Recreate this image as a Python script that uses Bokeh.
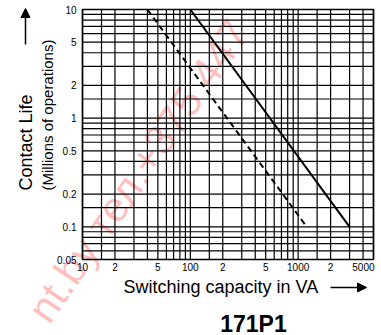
import math
from bokeh.plotting import figure
from bokeh.models import Arrow, NormalHead
from bokeh.core.properties import value
from bokeh.embed import file_html
from bokeh.resources import INLINE

# ---- data ----
x_tick_values = [10, 20, 50, 100, 200, 500, 1000, 2000, 5000]
x_tick_labels = ["10", "2", "5", "100", "2", "5", "1000", "2", "5000"]
y_tick_values = [0.05, 0.1, 0.2, 0.5, 1, 2, 5, 10]
y_tick_labels = ["0.05", "0.1", "0.2", "0.5", "1", "2", "5", "10"]
x_grid_values = [10, 15, 20, 30, 40, 50, 60, 70, 80, 90,
                 100, 150, 200, 300, 400, 500, 600, 700, 800, 900,
                 1000, 1500, 2000, 3000, 4000, 5000]
y_grid_values = [0.05, 0.06, 0.07, 0.08, 0.09,
                 0.1, 0.15, 0.2, 0.3, 0.4, 0.5, 0.6, 0.7, 0.8, 0.9,
                 1, 1.5, 2, 3, 4, 5, 6, 7, 8, 9, 10]
solid_va = [100, 3000]
solid_life = [10, 0.1]
dashed_va = [40, 1200]
dashed_life = [10, 0.1]

X_MIN, X_MAX = 10, 5000
Y_MIN, Y_MAX = 0.05, 10

FONT = value("Liberation Sans")
W, H = 381, 335
# plot box inside the canvas (pixels)
BOX_L, BOX_R, BOX_T, BOX_B = 82, 373, 9, 259

PX_X = (BOX_R - BOX_L) / math.log10(X_MAX / X_MIN)   # px per decade
PX_Y = (BOX_B - BOX_T) / math.log10(Y_MAX / Y_MIN)


def x_px(px):
    return X_MIN * 10 ** ((px - BOX_L) / PX_X)


def y_px(py):
    return Y_MAX / 10 ** ((py - BOX_T) / PX_Y)


p = figure(width=W, height=H, x_axis_type="log", y_axis_type="log",
           x_range=(x_px(0), x_px(W)), y_range=(y_px(H), y_px(0)),
           x_axis_location=None, y_axis_location=None,
           toolbar_location=None, output_backend="svg",
           min_border=0)
p.grid.visible = False
p.outline_line_color = None
p.background_fill_color = "white"
p.border_fill_color = "white"

# watermark (drawn first, under the grid)
p.text(x=[X_MIN], y=[Y_MIN], text=["nt.by тел.+375 447"], x_offset=-45, y_offset=58,
       angle=0.967, text_font=FONT, text_font_size="42px", text_color="red",
       text_alpha=0.27, text_align="left", text_baseline="middle")

# grid
nx, ny = len(x_grid_values), len(y_grid_values)
p.segment(x0=x_grid_values, y0=[Y_MIN] * nx, x1=x_grid_values, y1=[Y_MAX] * nx,
          line_color="black", line_width=1.2)
p.segment(x0=[X_MIN] * ny, y0=y_grid_values, x1=[X_MAX] * ny, y1=y_grid_values,
          line_color="black", line_width=1.2)
p.quad(left=[X_MIN], right=[X_MAX], bottom=[Y_MIN], top=[Y_MAX],
       fill_color=None, line_color="black", line_width=1.6)

# curves
p.line(solid_va, solid_life, line_color="black", line_width=2)
p.line(dashed_va, dashed_life, line_color="black", line_width=2, line_dash="6 4")

# tick labels
p.text(x=x_tick_values[:-1], y=[Y_MIN] * (len(x_tick_values) - 1), text=x_tick_labels[:-1],
       y_offset=3, text_font=FONT, text_font_size="10px", text_align="center",
       text_baseline="top", text_color="black")
p.text(x=x_tick_values[-1:], y=[Y_MIN], text=x_tick_labels[-1:], x_offset=1,
       y_offset=3, text_font=FONT, text_font_size="10px", text_align="right",
       text_baseline="top", text_color="black")
p.text(x=[X_MIN] * len(y_tick_values), y=y_tick_values, text=y_tick_labels,
       x_offset=-6, text_font=FONT, text_font_size="10px", text_align="right",
       text_baseline="middle", text_color="black")

# axis titles and caption
p.text(x=[X_MIN], y=[Y_MIN], text=["Contact Life"], x_offset=-57, y_offset=-69,
       angle=math.pi / 2, text_font=FONT, text_font_size="18px",
       text_align="left", text_baseline="middle", text_color="black")
p.text(x=[X_MIN], y=[Y_MIN], text=["(Millions of operations)"], x_offset=-35, y_offset=-69,
       angle=math.pi / 2, text_font=FONT, text_font_size="15px",
       text_align="left", text_baseline="middle", text_color="black")
p.text(x=[X_MIN], y=[Y_MIN], text=["Switching capacity in VA"], x_offset=41, y_offset=27,
       text_font=FONT, text_font_size="18px", text_align="left",
       text_baseline="middle", text_color="black")
p.text(x=[X_MIN], y=[Y_MIN], text=["171P1"], x_offset=171, y_offset=64,
       text_font=FONT, text_font_size="23px", text_font_style="bold",
       text_align="center", text_baseline="middle", text_color="black")

# axis arrows
p.add_layout(Arrow(end=NormalHead(size=9, fill_color="black", line_color="black"),
                   x_start=x_px(25), y_start=y_px(44), x_end=x_px(25), y_end=y_px(8),
                   line_color="black", line_width=1.5))
p.add_layout(Arrow(end=NormalHead(size=9, fill_color="black", line_color="black"),
                   x_start=x_px(330), y_start=y_px(287), x_end=x_px(366), y_end=y_px(287),
                   line_color="black", line_width=1.5))

open("out.html", "w").write(file_html(p, INLINE))
